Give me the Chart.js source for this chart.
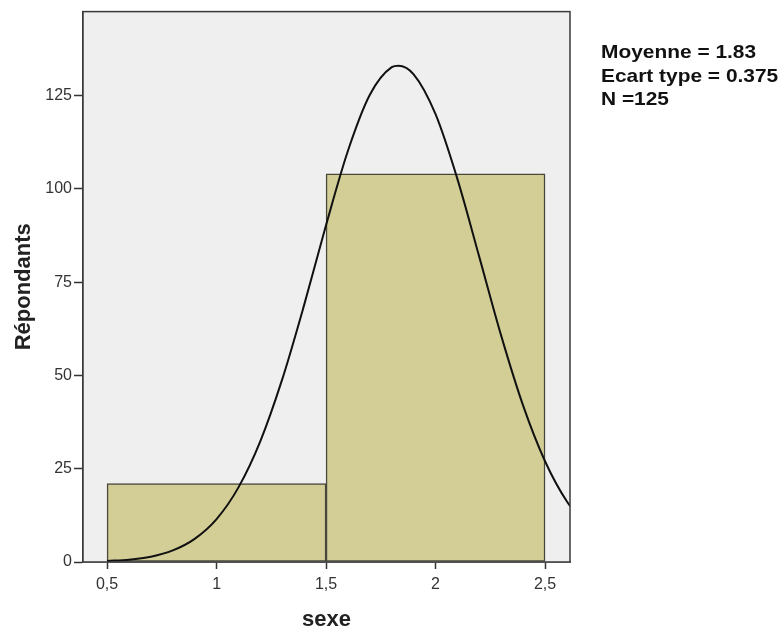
<!DOCTYPE html>
<html lang="fr">
<head>
  <meta charset="UTF-8">
  <title>Histogramme - sexe</title>
  <script src="https://cdn.jsdelivr.net/npm/chart.js"></script>
  <style>
    body {
      margin: 0;
      background: #fff;
      font-family: Arial, "Liberation Sans", sans-serif;
    }
    #conteneur {
      position: relative;
      width: 780px;
      height: 633px;
    }
    #stats {
      position: absolute;
      left: 601px;
      top: 40px;
      font-weight: bold;
      font-size: 19px;
      line-height: 23.5px;
      color: #111;
      white-space: nowrap;
      transform: scaleX(1.1);
      transform-origin: left top;
    }
  </style>
</head>
<body>

  <div id="conteneur">
    <canvas id="graphique"></canvas>
    <div id="stats">
      Moyenne = 1.83<br>
      Ecart type = 0.375<br>
      N =125
    </div>
  </div>

  <script>
    // classes de l'histogramme (centres) et effectifs
    const centresClasses = [1, 2];
    const effectifs = [21, 104];

    // courbe normale
    const courbeX = [0.5, 0.6, 0.7, 0.8, 0.9, 1.0, 1.1, 1.2, 1.3, 1.4, 1.5, 1.6, 1.7, 1.8, 1.83, 1.9, 2.0, 2.1, 2.2, 2.3, 2.4, 2.5, 2.6, 2.7];
    const courbeY = [0.3, 0.6, 1.4, 3.1, 6.2, 11.5, 20.0, 32.4, 49.0, 68.9, 90.3, 110.2, 125.2, 132.6, 133.0, 130.7, 120.0, 102.6, 81.7, 60.6, 41.9, 27.0, 16.2, 9.0];

    // graduations
    const ticksX = [0.5, 1, 1.5, 2, 2.5];
    const ticksXLabels = ['0,5', '1', '1,5', '2', '2,5'];
    const ticksY = [0, 25, 50, 75, 100, 125];

    const xMin = 0.39, xMax = 2.614;
    const yMax = 147.5;

    const cadre = {
      id: 'cadre',
      beforeDatasetsDraw(chart) {
        const { ctx, chartArea: a } = chart;
        ctx.save();
        ctx.fillStyle = '#efefef';
        ctx.fillRect(a.left, a.top, a.width, a.height);
        ctx.restore();
      },
      afterDraw(chart) {
        const { ctx, chartArea: a } = chart;
        ctx.save();
        ctx.strokeStyle = '#3a3a3a';
        ctx.lineWidth = 1.5;
        ctx.strokeRect(a.left, a.top, a.width, a.height);
        ctx.restore();
      }
    };

    const police = "Arial, 'Liberation Sans', sans-serif";

    new Chart(document.getElementById('graphique'), {
      type: 'bar',
      data: {
        datasets: [
          {
            type: 'line',
            data: courbeX.map((x, i) => ({ x: x, y: courbeY[i] })),
            borderColor: '#111',
            borderWidth: 2,
            pointRadius: 0,
            cubicInterpolationMode: 'monotone',
            fill: false,
            order: 0
          },
          {
            type: 'bar',
            data: centresClasses.map((c, i) => ({ x: c, y: effectifs[i] })),
            backgroundColor: '#d3cd96',
            borderColor: '#48473a',
            borderWidth: 1.5,
            borderSkipped: false,
            barThickness: 'flex',
            barPercentage: 1,
            categoryPercentage: 1,
            order: 1
          }
        ]
      },
      options: {
        responsive: true,
        maintainAspectRatio: false,
        animation: false,
        layout: { padding: { top: 11, right: 210, left: 0, bottom: 0 } },
        plugins: {
          legend: { display: false },
          tooltip: { enabled: false }
        },
        scales: {
          x: {
            type: 'linear',
            min: xMin,
            max: xMax,
            offset: false,
            afterBuildTicks: s => { s.ticks = ticksX.map(v => ({ value: v })); },
            afterFit: s => { s.height = 71; },
            ticks: {
              callback: v => ticksXLabels[ticksX.indexOf(v)],
              font: { family: police, size: 16 },
              color: '#333',
              padding: 6,
              maxRotation: 0,
              autoSkip: false
            },
            grid: { offset: false, drawOnChartArea: false, tickLength: 7, tickWidth: 1.5, tickColor: '#333' },
            border: { display: true, color: '#3a3a3a', width: 1.5 },
            title: {
              display: true,
              text: 'sexe',
              font: { family: police, size: 22, weight: 'bold' },
              color: '#222',
              padding: { top: 0, bottom: 0 }
            }
          },
          y: {
            min: 0,
            max: yMax,
            afterBuildTicks: s => { s.ticks = ticksY.map(v => ({ value: v })); },
            afterFit: s => { s.width = 83; },
            ticks: {
              font: { family: police, size: 16 },
              color: '#333',
              padding: 2
            },
            grid: { drawOnChartArea: false, tickLength: 9, tickWidth: 1.5, tickColor: '#333' },
            border: { display: true, color: '#3a3a3a', width: 1.5 },
            title: {
              display: true,
              text: 'Répondants',
              font: { family: police, size: 22, weight: 'bold' },
              color: '#222',
              padding: { top: 11, bottom: 0 }
            }
          }
        }
      },
      plugins: [cadre]
    });
  </script>
</body>
</html>
